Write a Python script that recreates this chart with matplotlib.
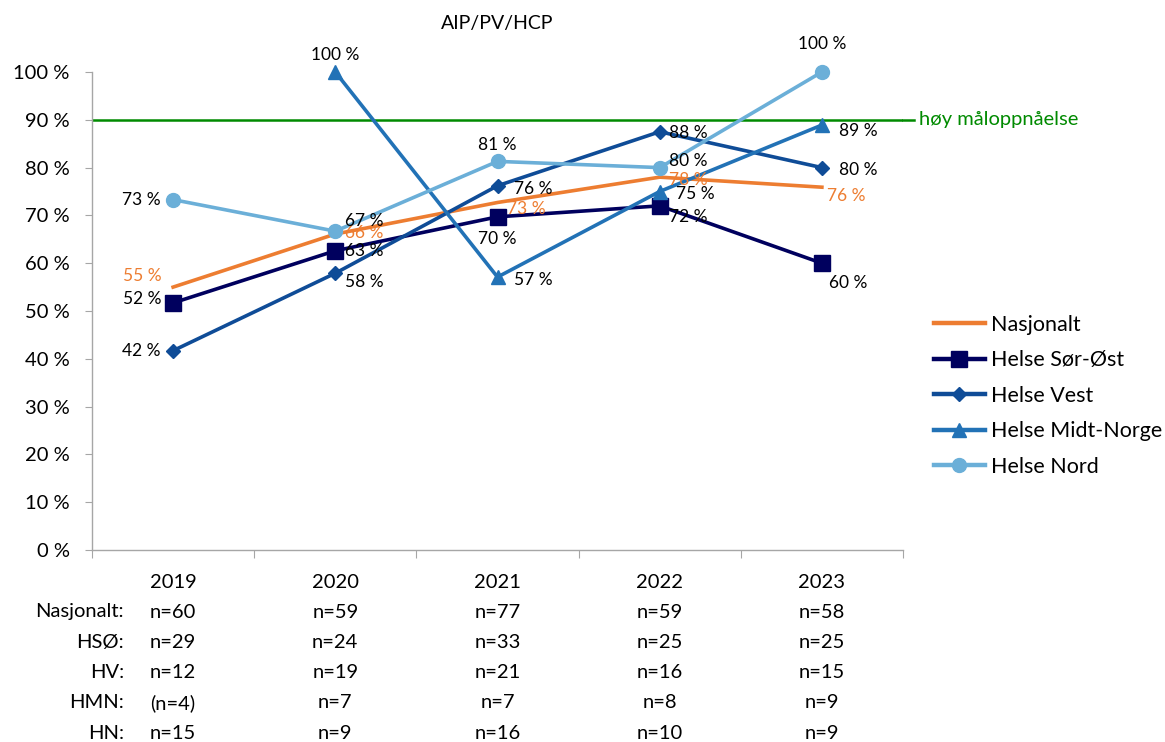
import numpy as np
import matplotlib
matplotlib.use("Agg")
import matplotlib.pyplot as plt
from matplotlib.lines import Line2D

plt.rcParams['font.family'] = ['Lato', 'DejaVu Sans']

years = ["2019", "2020", "2021", "2022", "2023"]
nasjonalt = [55.0, 66.1, 72.7, 78.0, 75.9]
helse_sor_ost = [51.7, 62.6, 69.7, 72.0, 60.0]
helse_vest = [41.7, 57.9, 76.2, 87.5, 80.0]
helse_midt_norge = [np.nan, 100.0, 57.1, 75.0, 88.9]
helse_nord = [73.3, 66.7, 81.3, 80.0, 100.0]
target = 90.0

row_labels = ["Nasjonalt:", "HSØ:", "HV:", "HMN:", "HN:"]
n_table = [
    ["n=60", "n=59", "n=77", "n=59", "n=58"],
    ["n=29", "n=24", "n=33", "n=25", "n=25"],
    ["n=12", "n=19", "n=21", "n=16", "n=15"],
    ["(n=4)", "n=7", "n=7", "n=8", "n=9"],
    ["n=15", "n=9", "n=16", "n=10", "n=9"],
]

W, H = 1165, 742
fig = plt.figure(figsize=(W / 100, H / 100), dpi=100)
ax_left, ax_right, ax_top, ax_bot = 92, 903, 72, 550
ax = fig.add_axes([ax_left / W, 1 - ax_bot / H, (ax_right - ax_left) / W, (ax_bot - ax_top) / H])

x = np.arange(len(years))
ax.set_xlim(-0.5, len(years) - 0.5)
ax.set_ylim(0, 100)

c_nas = "#ED7D31"
c_hso = "#00005E"
c_hv = "#0F4C97"
c_hmn = "#2272B6"
c_hn = "#6BAFD8"
c_green = "#008A00"

ax.axhline(target, color=c_green, lw=1.8, zorder=1)
ax.plot([ax.get_xlim()[1], 4.57], [target, target], color=c_green, lw=1.8, clip_on=False, zorder=1)
ax.text(4.57 + 0.03, target, "høy måloppnåelse", color=c_green, fontsize=14.5,
        va="center", ha="left", clip_on=False)

lw = 2.6
series = [
    ("Nasjonalt", nasjonalt, c_nas, None, 0),
    ("Helse Sør-Øst", helse_sor_ost, c_hso, "s", 12),
    ("Helse Vest", helse_vest, c_hv, "D", 7.5),
    ("Helse Midt-Norge", helse_midt_norge, c_hmn, "^", 10),
    ("Helse Nord", helse_nord, c_hn, "o", 10),
]
handles = []
for name, vals, col, mk, ms in series:
    ax.plot(x, vals, color=col, lw=lw, marker=mk, markersize=ms, clip_on=False, zorder=3)
    handles.append(Line2D([0], [0], color=col, lw=3.2, marker=mk, markersize=ms, label=name))

# value labels: (dx in points, dy in points, ha)
label_pos = {
    "Nasjonalt": [(-8, 8, "right"), (7, 1, "left"), (7, -5, "left"), (7, -2, "left"), (4, -6, "left")],
    "Helse Sør-Øst": [(-8, 3, "right"), (7, 0, "left"), (0, -16, "center"), (7, -8, "left"), (5, -14, "left")],
    "Helse Vest": [(-9, 0, "right"), (7, -6, "left"), (12, -2, "left"), (7, -1, "left"), (12, -2, "left")],
    "Helse Midt-Norge": [None, (0, 12, "center"), (12, -2, "left"), (12, -2, "left"), (12, -4, "left")],
    "Helse Nord": [(-9, 0, "right"), (7, 7, "left"), (0, 12, "center"), (7, 5, "left"), (0, 20, "center")],
}
for name, vals, col, mk, ms in series:
    tcol = c_nas if name == "Nasjonalt" else "black"
    for i, v in enumerate(vals):
        pos = label_pos[name][i]
        if pos is None or np.isnan(v):
            continue
        dx, dy, ha = pos
        ax.annotate(f"{v:.0f} %", (x[i], v), xytext=(dx, dy), textcoords="offset points",
                    ha=ha, va="center", fontsize=12.5, color=tcol, zorder=4,
                    annotation_clip=False)

# axes styling
for s in ["top", "right"]:
    ax.spines[s].set_visible(False)
for s in ["left", "bottom"]:
    ax.spines[s].set_color("#A6A6A6")
    ax.spines[s].set_linewidth(1.0)
ax.set_yticks(np.arange(0, 101, 10))
ax.set_yticklabels([f"{v} %" for v in range(0, 101, 10)], fontsize=14.5)
ax.tick_params(axis="y", length=5, color="#A6A6A6", pad=11)
ax.set_xticks(np.arange(-0.5, len(years), 1.0))
ax.set_xticklabels([])
ax.tick_params(axis="x", length=6, color="#A6A6A6", direction="out")

ax.set_title("AIP/PV/HCP", fontsize=14, pad=31)

# year labels and n-table below the axis
def fig_y(py):
    return 1 - py / H
for i, yr in enumerate(years):
    fx = (ax_left + (ax_right - ax_left) * (i + 0.5) / len(years)) / W
    fig.text(fx, fig_y(583), yr, ha="center", va="center", fontsize=14.5)
    for r in range(len(row_labels)):
        fig.text(fx, fig_y(612 + r * 30.3), n_table[r][i], ha="center", va="center", fontsize=14.5)
for r, lab in enumerate(row_labels):
    fig.text(124 / W, fig_y(612 + r * 30.3), lab, ha="right", va="center", fontsize=14.5)

leg = fig.legend(handles=handles, loc="upper left", bbox_to_anchor=(925 / W, 1 - 306 / H),
                 frameon=False, fontsize=15.5, handlelength=2.4, handletextpad=0.25,
                 labelspacing=0.72, borderaxespad=0)

fig.savefig("out.png", dpi=100)
